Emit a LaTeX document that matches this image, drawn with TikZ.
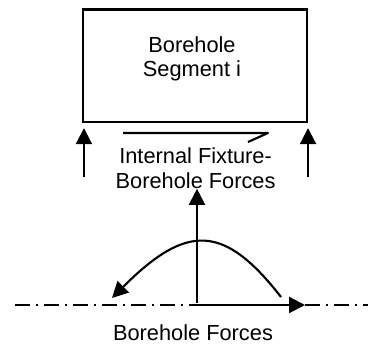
\documentclass[tikz,border=0pt]{standalone}
\usepackage{fontspec}
\setmainfont{Liberation Sans}
\usetikzlibrary{arrows.meta}

\begin{document}
\begin{tikzpicture}[font=\fontsize{31}{35}\selectfont,
  force/.style={line width=3pt,-{Triangle[length=0.8cm,width=0.8cm]}},
  axis/.style={line width=3pt,dash pattern=on 0.75cm off 0.3cm on 0.1cm off 0.3cm}]
  \useasboundingbox (0,0) rectangle (18.5,17.3);
  % Segment box and its label
  \node[draw,line width=3pt,minimum width=11.2cm,minimum height=5.625cm] (seg) at (9.75,14.01) {};
  \node[align=center,inner sep=0pt] (segtext) at (9.6,14.35) {Borehole\\Segment i};

  % Fixture forces acting on the segment
  \draw[force] ([shift={(0.1,-2.7)}]seg.south west) -- ([shift={(0.1,-0.25)}]seg.south west);
  \draw[force] ([yshift=-2.7cm]seg.south east) -- ([yshift=-0.25cm]seg.south east);
  \draw[line width=3pt,line join=round] (6.15,10.65) -- (13.4,10.65) -- (12.4,10.2);
  \node[align=center,inner sep=0pt] (fixtext) at (9.78,8.88) {Internal Fixture-\\Borehole Forces};

  % Borehole axis with its forces
  \coordinate (o) at (9.85,2.05);
  \draw[axis] (0.75,2.05) -- (18.4,2.05);
  \draw[force] ([yshift=0.1cm]o) -- (o |- fixtext.south);
  \draw[force] (o) -- (15.25,2.05);
  \draw[force] (14.05,2.45) .. controls (11.2,6.1) and (9.35,6.15) .. (5.6,2.4);
  \node[inner sep=0pt] (boretext) at (9.65,0.66) {Borehole Forces};
\end{tikzpicture}
\end{document}
